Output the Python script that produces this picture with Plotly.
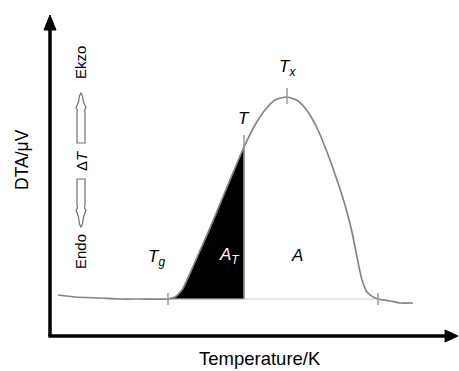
import plotly.graph_objects as go

# Schematic DTA curve (arbitrary units: temperature, DTA signal)
temperature = [8, 25, 50, 70, 90, 118, 125, 132, 137, 145, 160, 175, 194, 205, 215, 225, 237,
               248, 258, 267, 277, 287, 295, 302, 308, 312, 317, 323, 328, 340, 350, 363]
dta = [41, 39, 38, 37, 37, 37, 39, 46, 56, 74, 108, 144, 189, 211, 226, 236, 239,
       235, 224, 208, 184, 156, 131, 104, 74, 56, 44, 39, 37, 35, 33, 33]

baseline = 37
T_g, T_mark, T_x, T_end = 118, 194, 237, 328

W, H = 459, 371
L, R, T, B = 40, 1, 5, 25
xr = [-10, 408]
yr = [-10, 331]

fig = go.Figure()

# filled area A_T between Tg and T
fx = [t for t in temperature if T_g <= t <= T_mark]
fy = [d for t, d in zip(temperature, dta) if T_g <= t <= T_mark]
fig.add_trace(go.Scatter(x=[T_g] + fx + [T_mark, T_g], y=[baseline] + fy + [baseline, baseline],
                         fill="toself", fillcolor="black", mode="lines",
                         line=dict(color="black", width=0.5), hoverinfo="skip"))

# baseline
fig.add_trace(go.Scatter(x=[T_g, T_end], y=[baseline, baseline], mode="lines",
                         line=dict(color="#d0d0d0", width=1.2), hoverinfo="skip"))

# DTA curve
fig.add_trace(go.Scatter(x=temperature, y=dta, mode="lines",
                         line=dict(color="#858585", width=1.7, shape="spline", smoothing=0.6),
                         hoverinfo="skip"))

# tick marks
tick_col = "#9a9a9a"
for tx, y0, y1 in [(T_g, baseline - 6, baseline + 6), (T_mark, baseline, 201),
                   (T_x, 232, 248), (T_end, baseline - 6, baseline + 6)]:
    fig.add_shape(type="line", x0=tx, x1=tx, y0=y0, y1=y1, line=dict(color=tick_col, width=1.5))

# axes
fig.add_shape(type="line", x0=0, x1=0, y0=0, y1=306, line=dict(color="black", width=3.5))
fig.add_shape(type="line", x0=-1.7, x1=398, y0=0, y1=0, line=dict(color="black", width=3.5))
fig.add_shape(type="path", path="M -6,306 L 6,306 L 0,321 Z", fillcolor="black", line=dict(color="black", width=1))
fig.add_shape(type="path", path="M 395,6 L 395,-6 L 408,0 Z", fillcolor="black", line=dict(color="black", width=1))

# hollow double arrows for ΔT
cx = 31
up = (f"M {cx},243 L {cx-1.5},240 L {cx-2.5},234 L {cx-5},228 L {cx-3.5},226 L {cx-4},224 "
      f"L {cx-4},193 L {cx+4},193 L {cx+4},224 L {cx+3.5},226 L {cx+5},228 L {cx+2.5},234 L {cx+1.5},240 Z")
dn = (f"M {cx},109 L {cx-1.5},112 L {cx-2.5},119 L {cx-5},126 L {cx-3.5},128 L {cx-4},131 "
      f"L {cx-4},157 L {cx+4},157 L {cx+4},131 L {cx+3.5},128 L {cx+5},126 L {cx+2.5},119 L {cx+1.5},112 Z")
for p in (up, dn):
    fig.add_shape(type="path", path=p, fillcolor="white", line=dict(color="#707070", width=1.2))

font = "Liberation Sans, Arial, sans-serif"
ann = [
    dict(x=237, y=268, text="<i>T</i><sub><i>x</i></sub>", size=17),
    dict(x=194, y=218, text="<i>T</i>", size=17),
    dict(x=106, y=78, text="<i>T</i><sub><i>g</i></sub>", size=17),
    dict(x=179, y=80, text="<i>A</i><sub><i>T</i></sub>", size=17, color="white"),
    dict(x=247, y=81, text="<i>A</i>", size=17),
    dict(x=30, y=273, text="Ekzo", size=15, angle=-90),
    dict(x=31, y=175, text="Δ<i>T</i>", size=15, angle=-90),
    dict(x=30, y=84, text="Endo", size=15, angle=-90),
]
for a in ann:
    fig.add_annotation(x=a["x"], y=a["y"], xref="x", yref="y", text=a["text"], showarrow=False,
                       textangle=a.get("angle", 0), xanchor="center", yanchor="middle",
                       font=dict(family=font, size=a["size"], color=a.get("color", "black")))

pw, ph = W - L - R, H - T - B
fig.add_annotation(x=(260 - L) / pw, y=(H - B - 358) / ph, xref="paper", yref="paper",
                   xanchor="center", yanchor="middle",
                   text="Temperature/K", showarrow=False, font=dict(family=font, size=18.5, color="black"))
fig.add_annotation(x=(22 - L) / pw, y=(H - B - 160) / ph, xref="paper", yref="paper",
                   xanchor="center", yanchor="middle",
                   text="DTA/μV", showarrow=False, textangle=-90,
                   font=dict(family=font, size=17.5, color="black"))

fig.update_xaxes(range=xr, visible=False, fixedrange=True)
fig.update_yaxes(range=yr, visible=False, fixedrange=True)
fig.update_layout(width=W, height=H, margin=dict(l=L, r=R, t=T, b=B),
                  plot_bgcolor="white", paper_bgcolor="white", showlegend=False)

fig.write_html("out.html")
